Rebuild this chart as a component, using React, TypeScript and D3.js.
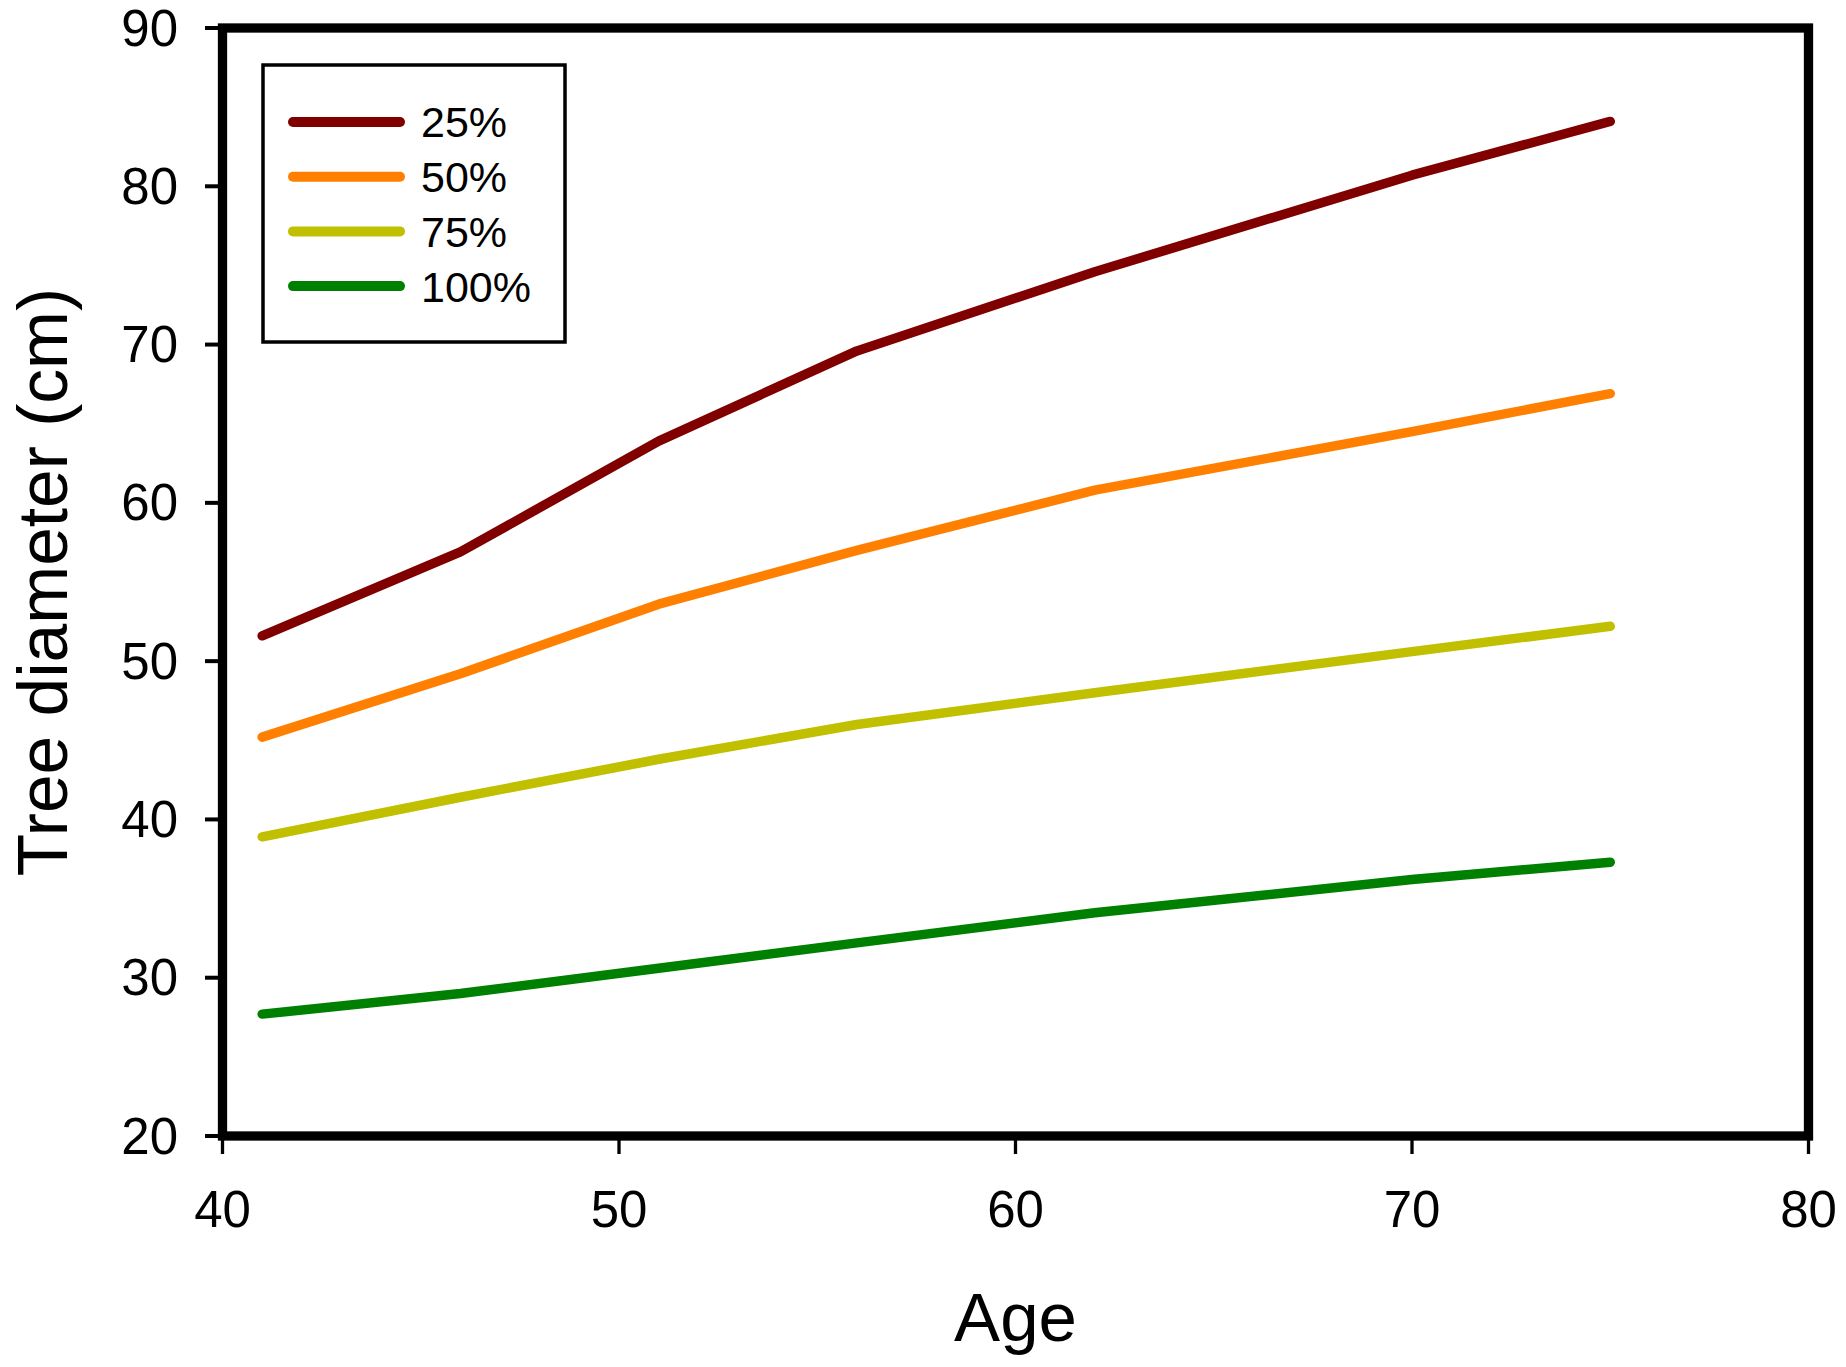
import React from "react";
import * as d3 from "d3";

const ages = [41, 46, 51, 56, 62, 70, 75];
const series25 = [51.6, 56.9, 63.9, 69.6, 74.6, 80.7, 84.1];
const series50 = [45.2, 49.2, 53.6, 57.0, 60.8, 64.5, 66.9];
const series75 = [38.9, 41.4, 43.8, 46.0, 48.0, 50.6, 52.2];
const series100 = [27.7, 29.0, 30.6, 32.2, 34.1, 36.2, 37.3];
const seriesNames = ["25%", "50%", "75%", "100%"];
const seriesColors = ["#800000", "#FF8000", "#C0C000", "#008000"];
const xTicks = [40, 50, 60, 70, 80];
const yTicks = [20, 30, 40, 50, 60, 70, 80, 90];

const W = 1846;
const H = 1367;
const FONT = "Arial, 'Liberation Sans', Helvetica, sans-serif";

export default function App() {
  const left = 222.5, right = 1808.5, top = 28, bottom = 1136;
  const x = d3.scaleLinear().domain([40, 80]).range([left, right]);
  const y = d3.scaleLinear().domain([20, 90]).range([bottom, top]);
  const allSeries = [series25, series50, series75, series100];
  const line = d3
    .line<number>()
    .x((_, i) => x(ages[i]))
    .y((d) => y(d));

  const legX = 263, legY = 65, legW = 302, legH = 277;
  const legLineX0 = 293, legLineX1 = 400;
  const legRow0 = 122, legStep = 54.7;

  return (
    <svg
      width={W}
      height={H}
      viewBox={`0 0 ${W} ${H}`}
      style={{ position: "absolute", left: 0, top: 0, background: "#fff" }}
      fontFamily={FONT}
    >
      <rect x={0} y={0} width={W} height={H} fill="#fff" />
      {allSeries.map((s, k) => (
        <path
          key={k}
          d={line(s) || ""}
          fill="none"
          stroke={seriesColors[k]}
          strokeWidth={9.5}
          strokeLinecap="round"
          strokeLinejoin="round"
        />
      ))}
      {yTicks.map((t) => (
        <g key={"y" + t}>
          <line x1={205} x2={left} y1={y(t)} y2={y(t)} stroke="#000" strokeWidth={4} />
          <text
            x={178}
            y={y(t)}
            textAnchor="end"
            dominantBaseline="central"
            fontSize={51}
            fill="#000"
          >
            {t}
          </text>
        </g>
      ))}
      {xTicks.map((t) => (
        <g key={"x" + t}>
          <line x1={x(t)} x2={x(t)} y1={bottom} y2={1154} stroke="#000" strokeWidth={3.3} />
          <text x={x(t)} y={1227} textAnchor="middle" fontSize={51} fill="#000">
            {t}
          </text>
        </g>
      ))}
      <rect
        x={left}
        y={top}
        width={right - left}
        height={bottom - top}
        fill="none"
        stroke="#000"
        strokeWidth={9.3}
        strokeLinejoin="miter"
      />
      <rect x={legX} y={legY} width={legW} height={legH} fill="#fff" stroke="#000" strokeWidth={3.5} />
      {seriesNames.map((n, k) => {
        const ly = legRow0 + k * legStep;
        return (
          <g key={n}>
            <line
              x1={legLineX0}
              x2={legLineX1}
              y1={ly}
              y2={ly}
              stroke={seriesColors[k]}
              strokeWidth={10}
              strokeLinecap="round"
            />
            <text x={421} y={ly + 15.4} fontSize={43} fill="#000">
              {n}
            </text>
          </g>
        );
      })}
      <text x={(left + right) / 2} y={1341} textAnchor="middle" fontSize={69} fill="#000">
        Age
      </text>
      <text
        transform={`translate(67, ${(top + bottom) / 2}) rotate(-90)`}
        textAnchor="middle"
        fontSize={69.5}
        fill="#000"
      >
        Tree diameter (cm)
      </text>
    </svg>
  );
}
